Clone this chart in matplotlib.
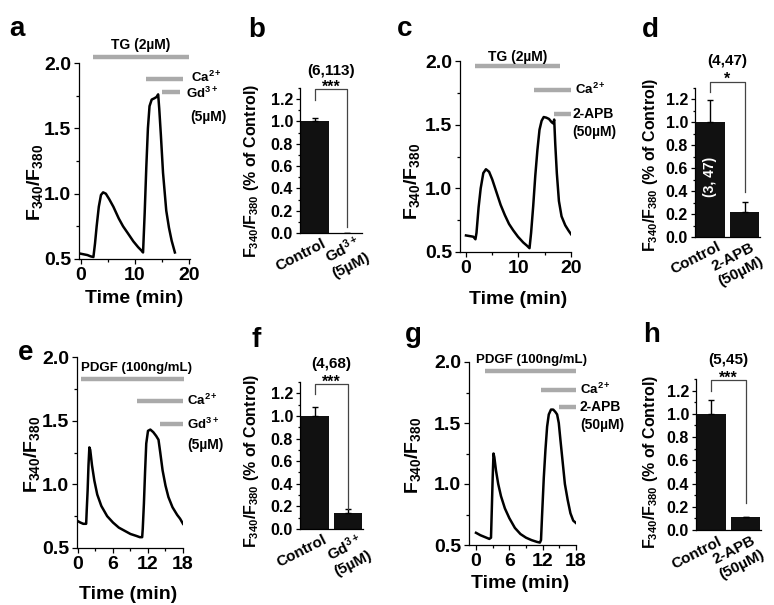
import matplotlib
matplotlib.use("Agg")
import matplotlib.pyplot as plt
from matplotlib.ticker import MultipleLocator
from matplotlib.transforms import ScaledTranslation

plt.rcParams["font.family"] = ["Liberation Sans", "DejaVu Sans"]
plt.rcParams["font.weight"] = "bold"
plt.rcParams["axes.labelweight"] = "bold"
plt.rcParams["mathtext.fontset"] = "custom"
plt.rcParams["mathtext.rm"] = "Liberation Sans:bold"
plt.rcParams["mathtext.it"] = "Liberation Sans:bold"
plt.rcParams["mathtext.bf"] = "Liberation Sans:bold"
plt.rcParams["mathtext.sf"] = "Liberation Sans:bold"
plt.rcParams["mathtext.default"] = "rm"

# traces (time in min, F340/F380)
t_a = [0.0, 0.6, 1.2, 1.8, 2.3, 2.6, 2.9, 3.3, 3.7, 4.1, 4.6, 5.2, 6.0, 7.0, 7.8, 8.8, 9.7, 10.6,
       11.2, 11.5, 11.8, 12.1, 12.4, 12.7, 13.1, 13.6, 14.0, 14.3, 14.5, 14.8, 15.2, 15.8, 16.3, 16.8, 17.4]
y_a = [0.54, 0.535, 0.53, 0.52, 0.515, 0.62, 0.75, 0.90, 0.99, 1.01, 1.0, 0.96, 0.90, 0.81, 0.75, 0.69, 0.635, 0.59,
       0.565, 0.55, 0.85, 1.2, 1.5, 1.67, 1.72, 1.73, 1.74, 1.76, 1.65, 1.45, 1.16, 0.87, 0.74, 0.64, 0.55]

t_c = [0.0, 0.7, 1.4, 1.8, 2.0, 2.4, 2.8, 3.3, 3.8, 4.4, 5.0, 5.8, 6.6, 7.4, 8.2, 9.0, 9.9, 10.9, 11.6, 12.1,
       12.4, 12.8, 13.2, 13.6, 14.0, 14.4, 14.8, 15.3, 15.8, 16.3, 16.6, 16.8, 17.0, 17.3, 17.7, 18.2, 18.9, 19.5, 20.0]
y_c = [0.63, 0.625, 0.62, 0.60, 0.65, 0.85, 1.0, 1.12, 1.15, 1.13, 1.07, 0.97, 0.87, 0.79, 0.72, 0.67, 0.62, 0.575, 0.55, 0.53,
       0.65, 0.86, 1.1, 1.3, 1.46, 1.53, 1.56, 1.555, 1.545, 1.52, 1.51, 1.54, 1.35, 1.12, 0.9, 0.78, 0.71, 0.67, 0.64]

t_e = [0.0, 0.4, 0.9, 1.4, 1.5, 1.65, 1.8, 1.95, 2.1, 2.4, 2.8, 3.3, 4.0, 5.0, 6.0, 7.0, 8.0, 9.0, 10.0, 10.6, 11.0,
       11.1, 11.3, 11.5, 11.7, 12.0, 12.4, 12.9, 13.4, 13.8, 14.1, 14.5, 15.0, 15.5, 16.2, 17.0, 17.5, 18.0]
y_e = [0.71, 0.70, 0.69, 0.69, 0.80, 0.95, 1.15, 1.29, 1.27, 1.15, 1.03, 0.92, 0.83, 0.75, 0.70, 0.66, 0.635, 0.61, 0.595, 0.585, 0.585,
       0.65, 0.85, 1.1, 1.32, 1.42, 1.43, 1.41, 1.38, 1.35, 1.25, 1.11, 0.99, 0.90, 0.82, 0.76, 0.73, 0.69]

t_g = [0.0, 0.8, 1.6, 2.4, 2.7, 2.85, 3.0, 3.15, 3.3, 3.6, 4.0, 4.5, 5.2, 6.0, 7.0, 8.0, 9.0, 10.0, 11.0, 11.5, 11.7,
       11.9, 12.2, 12.5, 12.8, 13.1, 13.5, 13.9, 14.3, 14.6, 14.9, 15.2, 15.6, 16.0, 16.5, 17.0, 17.5, 18.0]
y_g = [0.60, 0.58, 0.565, 0.55, 0.56, 0.8, 1.05, 1.25, 1.22, 1.11, 1.0, 0.90, 0.80, 0.72, 0.64, 0.59, 0.56, 0.54, 0.525, 0.52, 0.54,
       0.75, 1.05, 1.28, 1.47, 1.57, 1.61, 1.61, 1.59, 1.57, 1.50, 1.36, 1.18, 1.0, 0.87, 0.76, 0.70, 0.68]

# bar summaries (fraction of control)
cond_gd = ["Control", "Gd$^{3+}$\n(5\u00b5M)"]
cond_apb = ["Control", "2-APB\n(50\u00b5M)"]
val_b, err_b = [1.0, 0.0], [0.035, 0.0]
val_d, err_d = [1.0, 0.22], [0.19, 0.085]
val_f, err_f = [1.0, 0.14], [0.075, 0.035]
val_h, err_h = [1.0, 0.11], [0.115, 0.005]
n_b, n_d, n_f, n_h = "(6,113)", "(4,47)", "(4,68)", "(5,45)"
sig_b, sig_d, sig_f, sig_h = "***", "*", "***", "***"

GRAY = "#aaaaaa"
W, H = 774, 605
fig = plt.figure(figsize=(W / 100, H / 100), dpi=100)


def rect(l, r, top, bot):
    return [l / W, (H - bot) / H, (r - l) / W, (bot - top) / H]


def style(ax):
    ax.spines["top"].set_visible(False)
    ax.spines["right"].set_visible(False)
    for s in ("left", "bottom"):
        ax.spines[s].set_linewidth(0.9)


def trace_panel(r, t, y, xlim, xt, xminor, ylab, xlab):
    ax = fig.add_axes(r)
    ax.plot(t, y, color="black", lw=1.8)
    ax.set_xlim(xlim)
    ax.set_ylim(0.5, 2.0)
    ax.set_xticks(xt)
    ax.xaxis.set_minor_locator(MultipleLocator(xminor))
    ax.set_yticks([0.5, 1.0, 1.5, 2.0])
    ax.yaxis.set_minor_locator(MultipleLocator(0.25))
    ax.tick_params(which="major", length=3.5, width=0.9, labelsize=14, pad=2)
    ax.tick_params(which="minor", length=2, width=0.9)
    style(ax)
    ax.set_ylabel("F$_{340}$/F$_{380}$", fontsize=14)
    ax.yaxis.set_label_coords(*ylab)
    ax.yaxis.label.set_va("center")
    ax.set_xlabel("Time (min)", fontsize=14)
    ax.xaxis.set_label_coords(*xlab)
    ax.xaxis.label.set_va("center")
    return ax


def drug(ax, t0, t1, y):
    ax.plot([t0, t1], [y, y], color=GRAY, lw=3.2, solid_capstyle="butt", clip_on=False)


def note(ax, x, y, s, size=10, ha="left"):
    ax.text(x, y, s, fontsize=size, ha=ha, va="center", clip_on=False)


def bar_panel(r, names, vals, errs, brk, sig, ntxt, ny, offs, ylab):
    ax = fig.add_axes(r)
    x = [0, 1]
    ax.bar(x, vals, width=0.85, color="#111111")
    ax.errorbar(x, vals, yerr=[[0, 0], errs], fmt="none", ecolor="black",
                elinewidth=1, capsize=2, capthick=1)
    ax.set_xlim(-0.45, 1.45)
    ax.set_ylim(0, 1.3)
    ax.set_yticks([0.0, 0.2, 0.4, 0.6, 0.8, 1.0, 1.2])
    ax.yaxis.set_minor_locator(MultipleLocator(0.1))
    ax.tick_params(axis="y", which="major", length=3, width=0.9, labelsize=11.5, pad=2)
    ax.tick_params(axis="y", which="minor", length=1.5, width=0.9)
    ax.tick_params(axis="x", length=0, pad=0)
    ax.set_xticks(x)
    ax.set_xticklabels(names, rotation=27, ha="right", va="center",
                       rotation_mode="anchor", fontsize=11, multialignment="center")
    for lab, (dx, dy) in zip(ax.get_xticklabels(), offs):
        lab.set_transform(lab.get_transform() + ScaledTranslation(dx / 100, -dy / 100, fig.dpi_scale_trans))
    style(ax)
    b0, top, b1 = brk
    ax.plot([0, 0, 1, 1], [b0, top, top, b1], color="#444444", lw=0.9, clip_on=False)
    ax.text(0.5, top - 0.02, sig, fontsize=11.5, ha="center", va="baseline", clip_on=False)
    ax.text(0.5, ny, ntxt, fontsize=11, ha="center", va="center", clip_on=False)
    ax.set_ylabel("F$_{340}$/F$_{380}$ (% of Control)", fontsize=11.5)
    ax.yaxis.set_label_coords(*ylab)
    ax.yaxis.label.set_va("center")
    return ax


# a
ax = trace_panel(rect(79, 190, 63, 259), t_a, y_a, (-0.37, 20.2), [0, 10, 20], 5, (-0.40, 0.39), (0.5, -0.2))
drug(ax, 2.2, 20.0, 2.046)
note(ax, 11.1, 2.14, "TG (2\u00b5M)", 10, "center")
drug(ax, 12.0, 18.9, 1.878)
note(ax, 20.3, 1.89, "Ca$^{2+}$", 9.5)
drug(ax, 15.0, 18.3, 1.778)
note(ax, 19.5, 1.765, "Gd$^{3+}$", 9.5)
note(ax, 20.3, 1.59, "(5\u00b5M)", 10)

# b
bar_panel(rect(300, 362, 88, 233), cond_gd, val_b, err_b, (1.19, 1.29, 0.05), sig_b, n_b, 1.45,
          [(10, 10), (17, 14)], (-0.78, 0.43))

# c
ax = trace_panel(rect(460, 571, 61, 252), t_c, y_c, (-1.14, 20.0), [0, 10, 20], 5, (-0.43, 0.37), (0.52, -0.25))
drug(ax, 1.8, 18.0, 1.958)
note(ax, 9.9, 2.03, "TG (2\u00b5M)", 10, "center")
drug(ax, 13.0, 20.0, 1.776)
note(ax, 20.8, 1.78, "Ca$^{2+}$", 9.5)
drug(ax, 16.8, 20.0, 1.58)
note(ax, 20.3, 1.58, "2-APB", 10)
note(ax, 20.3, 1.44, "(50\u00b5M)", 10)

# d
ax = bar_panel(rect(695, 760, 87.5, 237), cond_apb, val_d, err_d, (1.26, 1.35, 0.39), sig_d, n_d, 1.53,
               [(10, 9), (14, 16)], (-0.68, 0.48))
ax.text(0, 0.52, "(3, 47)", rotation=90, color="white", fontsize=10, ha="center", va="center")

# e
ax = trace_panel(rect(77, 183, 357, 548), t_e, y_e, (-0.17, 18.0), [0, 6, 12, 18], 3, (-0.42, 0.49), (0.48, -0.246))
note(ax, 0.5, 1.91, "PDGF (100ng/mL)", 9.5)
drug(ax, 0.5, 18.1, 1.83)
drug(ax, 10.1, 18.0, 1.655)
note(ax, 18.7, 1.66, "Ca$^{2+}$", 9.5)
drug(ax, 14.1, 18.0, 1.474)
note(ax, 18.7, 1.47, "Gd$^{3+}$", 9.5)
note(ax, 18.7, 1.31, "(5\u00b5M)", 10)

# f
bar_panel(rect(300, 363, 382, 529), cond_gd, val_f, err_f, (1.19, 1.28, 0.18), sig_f, n_f, 1.46,
          [(11, 10), (18, 16)], (-0.77, 0.46))

# g
ax = trace_panel(rect(469, 576, 362, 545), t_g, y_g, (-1.26, 18.0), [0, 6, 12, 18], 3, (-0.52, 0.49), (0.48, -0.21))
note(ax, 0.0, 2.02, "PDGF (100ng/mL)", 9.5)
drug(ax, 1.7, 18.0, 1.926)
drug(ax, 11.7, 18.0, 1.77)
note(ax, 18.7, 1.775, "Ca$^{2+}$", 9.5)
drug(ax, 14.9, 18.0, 1.634)
note(ax, 18.7, 1.63, "2-APB", 10)
note(ax, 18.7, 1.48, "(50\u00b5M)", 10)

# h
bar_panel(rect(696, 761, 379, 530), cond_apb, val_h, err_h, (1.2, 1.29, 0.23), sig_h, n_h, 1.46,
          [(10, 11), (14, 16)], (-0.70, 0.45))

for s, px, py in [("a", 17, 36), ("b", 257, 37), ("c", 405, 36), ("d", 650, 37),
                  ("e", 26, 360), ("f", 256, 347), ("g", 413, 342), ("h", 652, 342)]:
    fig.text(px / W, 1 - py / H, s, fontsize=20, fontweight="bold", ha="center", va="baseline")

fig.savefig("out.png", dpi=100)
